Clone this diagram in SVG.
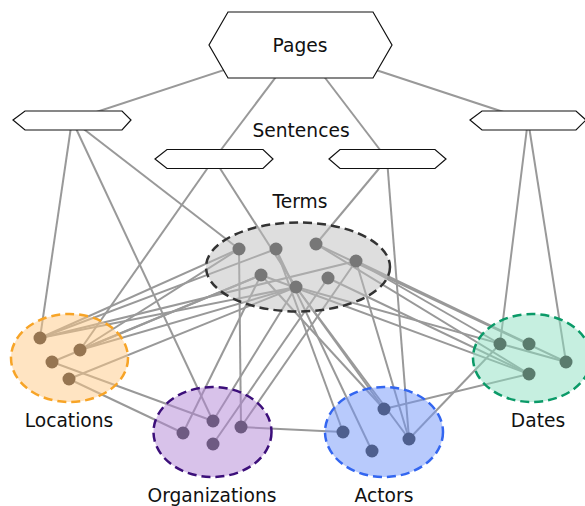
<svg xmlns="http://www.w3.org/2000/svg" width="585" height="506" viewBox="0 0 585 506">
  <style>
    .lbl { font-family: "DejaVu Sans", sans-serif; font-size: 18.67px; fill: #111; text-anchor: middle; }
    .hex { fill: #fff; stroke: #111; stroke-width: 1.2; }
    .edges line { stroke: #999; stroke-width: 2; }
    .grp { stroke-width: 2.5; stroke-dasharray: 9 5; }
  </style>
  <rect width="585" height="506" fill="#fff"/>

  <!-- connectors, drawn first so shapes sit on top -->
  <g id="connectors" class="edges">
    <!-- page to sentences -->
    <line x1="300" y1="45" x2="72" y2="120"/>
    <line x1="300" y1="45" x2="214" y2="159"/>
    <line x1="300" y1="45" x2="387" y2="159"/>
    <line x1="300" y1="45" x2="528" y2="120"/>
    <!-- sentences to entities -->
    <line x1="72" y1="120" x2="40" y2="338"/>
    <line x1="72" y1="120" x2="213" y2="421"/>
    <line x1="72" y1="120" x2="239" y2="249"/>
    <line x1="214" y1="159" x2="80" y2="350"/>
    <line x1="214" y1="159" x2="296" y2="287"/>
    <line x1="387" y1="159" x2="316" y2="244"/>
    <line x1="387" y1="159" x2="409" y2="439"/>
    <line x1="528" y1="120" x2="500" y2="344"/>
    <line x1="528" y1="120" x2="566" y2="362"/>
    <!-- locations to terms -->
    <line x1="40" y1="338" x2="239" y2="249"/>
    <line x1="40" y1="338" x2="276" y2="249"/>
    <line x1="40" y1="338" x2="296" y2="287"/>
    <line x1="40" y1="338" x2="356" y2="261"/>
    <line x1="80" y1="350" x2="239" y2="249"/>
    <line x1="80" y1="350" x2="261" y2="275"/>
    <line x1="80" y1="350" x2="296" y2="287"/>
    <line x1="52" y1="362" x2="261" y2="275"/>
    <line x1="69" y1="379" x2="296" y2="287"/>
    <!-- locations to organizations -->
    <line x1="52" y1="362" x2="213" y2="421"/>
    <line x1="69" y1="379" x2="183" y2="433"/>
    <!-- terms to organizations -->
    <line x1="239" y1="249" x2="241" y2="427"/>
    <line x1="261" y1="275" x2="183" y2="433"/>
    <line x1="296" y1="287" x2="213" y2="421"/>
    <line x1="328" y1="278" x2="213" y2="444"/>
    <line x1="356" y1="261" x2="241" y2="427"/>
    <!-- terms to actors -->
    <line x1="276" y1="249" x2="343" y2="432"/>
    <line x1="276" y1="249" x2="372" y2="451"/>
    <line x1="261" y1="275" x2="384" y2="409"/>
    <line x1="296" y1="287" x2="384" y2="409"/>
    <line x1="296" y1="287" x2="409" y2="439"/>
    <line x1="356" y1="261" x2="409" y2="439"/>
    <!-- terms to dates -->
    <line x1="316" y1="244" x2="566" y2="362"/>
    <line x1="316" y1="244" x2="529" y2="374"/>
    <line x1="356" y1="261" x2="500" y2="344"/>
    <line x1="356" y1="261" x2="529" y2="344"/>
    <line x1="296" y1="287" x2="566" y2="362"/>
    <line x1="328" y1="278" x2="529" y2="374"/>
    <line x1="261" y1="275" x2="529" y2="374"/>
    <!-- organizations to actors, actors to dates -->
    <line x1="241" y1="427" x2="343" y2="432"/>
    <line x1="384" y1="409" x2="529" y2="374"/>
    <line x1="409" y1="439" x2="500" y2="344"/>
  </g>

  <!-- page and sentence nodes -->
  <g id="pages">
    <polygon class="hex" points="228,12 373,12 392,45 373,78 228,78 209,45"/>
    <text class="lbl" x="300" y="52">Pages</text>
  </g>
  <g id="sentence-1"><polygon class="hex" points="13,120 25,111 122,111 131,120 122,130 25,130"/></g>
  <g id="sentence-2"><polygon class="hex" points="155,159 167,149.5 263,149.5 273,159 263,168.5 167,168.5"/></g>
  <g id="sentence-3"><polygon class="hex" points="329,159 340,149.5 435,149.5 446,159 435,168.5 340,168.5"/></g>
  <g id="sentence-4"><polygon class="hex" points="470,120 482,111 576,111 586,120 576,130 482,130"/></g>
  <text class="lbl" x="301" y="137">Sentences</text>

  <!-- entity groups -->
  <g id="terms">
    <ellipse class="grp" cx="298" cy="267" rx="92" ry="44.5" fill="#bdbdbd" fill-opacity="0.5" stroke="#333"/>
    <g fill="#777">
      <circle cx="239" cy="249" r="6.5"/>
      <circle cx="276" cy="249" r="6.5"/>
      <circle cx="316" cy="244" r="6.5"/>
      <circle cx="356" cy="261" r="6.5"/>
      <circle cx="261" cy="275" r="6.5"/>
      <circle cx="328" cy="278" r="6.5"/>
      <circle cx="296" cy="287" r="6.5"/>
    </g>
    <text class="lbl" x="300" y="208">Terms</text>
  </g>

  <g id="locations">
    <ellipse class="grp" cx="69.5" cy="358" rx="58.5" ry="44" fill="#ffc985" fill-opacity="0.5" stroke="#f7a427"/>
    <g fill="#967551">
      <circle cx="40" cy="338" r="6.5"/>
      <circle cx="80" cy="350" r="6.5"/>
      <circle cx="52" cy="362" r="6.5"/>
      <circle cx="69" cy="379" r="6.5"/>
    </g>
    <text class="lbl" x="69" y="427">Locations</text>
  </g>

  <g id="organizations">
    <ellipse class="grp" cx="212.5" cy="432" rx="59" ry="45" fill="#b185d5" fill-opacity="0.5" stroke="#3c0f7a"/>
    <g fill="#6e5a82">
      <circle cx="213" cy="421" r="6.5"/>
      <circle cx="183" cy="433" r="6.5"/>
      <circle cx="241" cy="427" r="6.5"/>
      <circle cx="213" cy="444" r="6.5"/>
    </g>
    <text class="lbl" x="212" y="502">Organizations</text>
  </g>

  <g id="actors">
    <ellipse class="grp" cx="384" cy="432" rx="59" ry="45" fill="#7195f9" fill-opacity="0.5" stroke="#3366f0"/>
    <g fill="#4e5f8e">
      <circle cx="384" cy="409" r="6.5"/>
      <circle cx="343" cy="432" r="6.5"/>
      <circle cx="409" cy="439" r="6.5"/>
      <circle cx="372" cy="451" r="6.5"/>
    </g>
    <text class="lbl" x="384" y="502">Actors</text>
  </g>

  <g id="dates">
    <ellipse class="grp" cx="532" cy="358" rx="59" ry="44" fill="#8ddfc1" fill-opacity="0.5" stroke="#0b9a68"/>
    <g fill="#5a7b6d">
      <circle cx="500" cy="344" r="6.5"/>
      <circle cx="529" cy="344" r="6.5"/>
      <circle cx="566" cy="362" r="6.5"/>
      <circle cx="529" cy="374" r="6.5"/>
    </g>
    <text class="lbl" x="538" y="427">Dates</text>
  </g>
</svg>
